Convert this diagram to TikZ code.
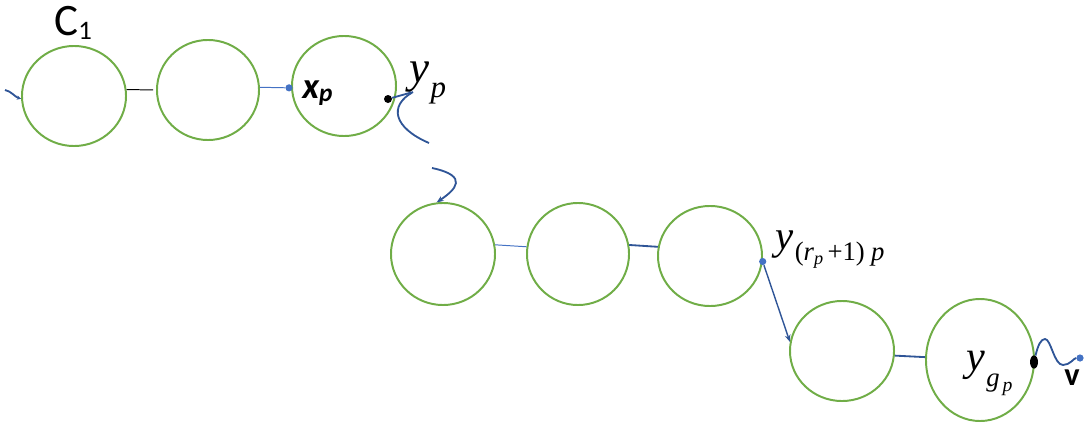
\documentclass[tikz,border=0pt]{standalone}
\usepackage{fontspec}
\newfontfamily\calfont{Carlito}
\newfontfamily\tmsfont{Liberation Serif}
\usetikzlibrary{shapes.geometric,arrows.meta,calc}
\definecolor{ringgreen}{HTML}{70AD47}
\definecolor{linkblue}{HTML}{2F5597}
\definecolor{lightblue}{HTML}{4472C4}
\begin{document}
\begin{tikzpicture}[x=0.025cm,y=-0.025cm,
  ring/.style n args={2}{ellipse,draw=ringgreen,line width=1.4pt,inner sep=0pt,
    minimum width=#1*0.05cm,minimum height=#2*0.05cm},
  bluedot/.style={circle,fill=lightblue,inner sep=0pt,minimum size=0.18cm},
  blackdot/.style={circle,fill=black,inner sep=0pt,minimum size=0.2cm},
  label/.style={anchor=base west,inner sep=0pt},
  thinlink/.style={line width=0.7pt},
  wave/.style={draw=linkblue,line width=1.3pt},
  tip/.style={-{Stealth[length=5pt,width=4pt]}},
  smalltip/.style={-{Stealth[length=3pt,width=3pt]}}]
\useasboundingbox (0,0) rectangle (1084,428);

% the two rows of cycles
\node[ring={52}{50}] (c1) at (74,96) {};
\node[ring={51}{50}] (c2) at (208,90) {};
\node[ring={52}{50}] (c3) at (344,86) {};
\node[ring={52}{51}] (c4) at (443,254) {};
\node[ring={51}{51}] (c5) at (578,254) {};
\node[ring={52}{50}] (c6) at (710,256) {};
\node[ring={52}{50}] (c7) at (842,351) {};
\node[ring={54}{61}] (c8) at (980,360) {};

% marked vertices
\node[bluedot] (xp) at ($(c3.182)+(-2,0)$) {};
\node[blackdot] (yp) at (388,99) {};
\node[bluedot] (yr) at (c6.-6) {};
\node[ellipse,fill=black,inner sep=0pt,minimum width=0.2cm,minimum height=0.33cm] (yg) at (1034,362) {};
\node[bluedot] (v) at (1080,358) {};

% free ends of the curved paths
\coordinate (lin) at (5,90);
\coordinate (ypk) at (413,92);
\coordinate (w1e) at (429,143);
\coordinate (w2s) at (432,168);

% edges inside the rows
\draw[thinlink,black,shorten >=2pt] (c1.7) -- (c2.180);
\draw[thinlink,lightblue] (c2.3) -- (xp);
\draw[thinlink,lightblue] (c4.10) -- (c5.172);
\draw[wave] (c5.10) -- (c6.170);
\draw[wave] (c7.-5) -- (c8.177);

% paths between the rows
\draw[wave,smalltip] (lin) .. controls (11,91) and (15,97) .. (c1.183);
\draw[wave,smalltip] (yp) -- (ypk);
\draw[wave] (ypk) .. controls (388,106) and (394,128) .. (w1e);
\draw[wave,tip] (w2s) .. controls (470,176) and (455,190) .. (c4.97);
\draw[wave,line width=1pt,tip] (yr) -- (c7.170);
\draw[wave] (yg) .. controls (1038,345) and (1041,339) .. (1045,339)
  .. controls (1051,339) and (1054,365) .. (1063,365)
  .. controls (1070,365) and (1074,358) .. (v);

% labels
\node[label] (lc1) at (54,35) {\calfont\fontsize{32pt}{34pt}\selectfont C\raisebox{-3pt}{\fontsize{19pt}{21pt}\selectfont 1}};
\node[label] (lxp) at (302,98) {\calfont\bfseries\itshape\fontsize{26pt}{28pt}\selectfont x\raisebox{-2.5pt}{\fontsize{18pt}{20pt}\selectfont p}};
\node[label] (lyp) at (409,82) {\tmsfont\itshape\fontsize{32pt}{34pt}\selectfont y\hspace{1pt}\raisebox{-11pt}{\fontsize{22pt}{24pt}\selectfont p}};
\node[label] (lyr) at (775,249) {\tmsfont\fontsize{29pt}{31pt}\selectfont\textit{y}\hspace{1pt}\raisebox{-8pt}{\fontsize{19pt}{21pt}\selectfont (\textit{r}\raisebox{-3pt}{\fontsize{13pt}{15pt}\selectfont\textit{p}}\hspace{3pt}+1)\hspace{4.5pt}\textit{p}}};
\node[label] (lyg) at (966,370) {\tmsfont\itshape\fontsize{30pt}{32pt}\selectfont y\hspace{1pt}\raisebox{-12pt}{\fontsize{19pt}{21pt}\selectfont g\hspace{2pt}\raisebox{-3pt}{\fontsize{14pt}{16pt}\selectfont p}}};
\node[label] (lv) at (1064,385) {\calfont\bfseries\fontsize{23pt}{25pt}\selectfont v};
\end{tikzpicture}
\end{document}
